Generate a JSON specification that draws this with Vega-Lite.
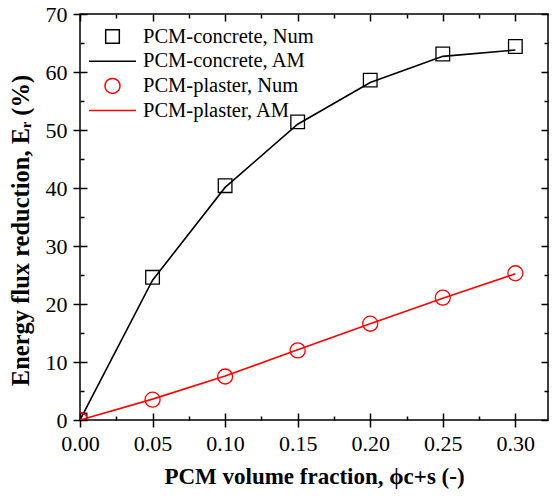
{
  "$schema": "https://vega.github.io/schema/vega-lite/v6.json",
  "width": 468,
  "height": 406,
  "autosize": "none",
  "padding": {"left": 80, "top": 14, "right": 5, "bottom": 76},
  "background": "white",
  "config": {
    "view": {"stroke": "black", "strokeWidth": 1.5},
    "axis": {
      "labelFont": "Liberation Serif",
      "labelFontSize": 22,
      "labelColor": "black",
      "titleFont": "Liberation Serif",
      "titleFontSize": 23,
      "titleFontWeight": "bold",
      "titleColor": "black",
      "tickColor": "black",
      "tickWidth": 1.5,
      "grid": false,
      "domain": false,
      "labelFlush": false,
      "labelOverlap": false
    },
    "legend": {
      "labelFont": "Liberation Serif",
      "labelFontSize": 20.5,
      "labelColor": "black",
      "labelOffset": 6,
      "labelLimit": 0,
      "rowPadding": 3.7,
      "clipHeight": 21,
      "symbolStrokeWidth": 1.5,
      "symbolSize": 2209,
      "padding": 0
    }
  },
  "data": {
    "values": [
      {"x": 0.0, "y": 0.0, "series": "PCM-concrete, Num", "type": "Num"},
      {"x": 0.05, "y": 24.6, "series": "PCM-concrete, Num", "type": "Num"},
      {"x": 0.1, "y": 40.4, "series": "PCM-concrete, Num", "type": "Num"},
      {"x": 0.15, "y": 51.4, "series": "PCM-concrete, Num", "type": "Num"},
      {"x": 0.2, "y": 58.6, "series": "PCM-concrete, Num", "type": "Num"},
      {"x": 0.25, "y": 63.1, "series": "PCM-concrete, Num", "type": "Num"},
      {"x": 0.3, "y": 64.4, "series": "PCM-concrete, Num", "type": "Num"},
      {"x": 0.0, "y": 0.0, "series": "PCM-concrete, AM", "type": "AM"},
      {"x": 0.05, "y": 24.1, "series": "PCM-concrete, AM", "type": "AM"},
      {"x": 0.1, "y": 40.1, "series": "PCM-concrete, AM", "type": "AM"},
      {"x": 0.15, "y": 51.0, "series": "PCM-concrete, AM", "type": "AM"},
      {"x": 0.2, "y": 58.2, "series": "PCM-concrete, AM", "type": "AM"},
      {"x": 0.25, "y": 62.7, "series": "PCM-concrete, AM", "type": "AM"},
      {"x": 0.3, "y": 63.8, "series": "PCM-concrete, AM", "type": "AM"},
      {"x": 0.0, "y": 0.0, "series": "PCM-plaster, Num", "type": "Num"},
      {"x": 0.05, "y": 3.5, "series": "PCM-plaster, Num", "type": "Num"},
      {"x": 0.1, "y": 7.5, "series": "PCM-plaster, Num", "type": "Num"},
      {"x": 0.15, "y": 12.0, "series": "PCM-plaster, Num", "type": "Num"},
      {"x": 0.2, "y": 16.6, "series": "PCM-plaster, Num", "type": "Num"},
      {"x": 0.25, "y": 21.1, "series": "PCM-plaster, Num", "type": "Num"},
      {"x": 0.3, "y": 25.3, "series": "PCM-plaster, Num", "type": "Num"},
      {"x": 0.0, "y": 0.0, "series": "PCM-plaster, AM", "type": "AM"},
      {"x": 0.05, "y": 3.6, "series": "PCM-plaster, AM", "type": "AM"},
      {"x": 0.1, "y": 7.6, "series": "PCM-plaster, AM", "type": "AM"},
      {"x": 0.15, "y": 12.1, "series": "PCM-plaster, AM", "type": "AM"},
      {"x": 0.2, "y": 16.6, "series": "PCM-plaster, AM", "type": "AM"},
      {"x": 0.25, "y": 21.0, "series": "PCM-plaster, AM", "type": "AM"},
      {"x": 0.3, "y": 25.2, "series": "PCM-plaster, AM", "type": "AM"}
    ]
  },
  "layer": [
    {
      "transform": [{"filter": "datum.type === 'AM'"}],
      "mark": {"type": "line", "strokeWidth": 1.6, "clip": true},
      "encoding": {
        "x": {"field": "x", "type": "quantitative", "scale": {"domain": [0, 0.3225], "nice": false, "zero": false},
          "axis": {"orient": "bottom", "values": [0, 0.025, 0.05, 0.075, 0.1, 0.125, 0.15, 0.175, 0.2, 0.225, 0.25, 0.275, 0.3],
            "tickSize": {"condition": {"test": "round(datum.value*1000) % 50 === 0", "value": -7}, "value": -4},
            "labels": false, "title": null}},
        "y": {"field": "y", "type": "quantitative", "scale": {"domain": [0, 70], "nice": false},
          "axis": {"orient": "left", "values": [0, 5, 10, 15, 20, 25, 30, 35, 40, 45, 50, 55, 60, 65, 70],
            "tickSize": {"condition": {"test": "datum.value % 10 === 0", "value": -7}, "value": -4},
            "labels": false, "title": null}},
        "stroke": {"field": "series", "type": "nominal", "legend": null,
          "scale": {"domain": ["PCM-concrete, AM", "PCM-plaster, AM"], "range": ["black", "red"]}},
        "order": {"field": "x", "type": "quantitative"}
      }
    },
    {
      "transform": [{"filter": "datum.type === 'Num'"}],
      "mark": {"type": "point", "filled": false, "strokeWidth": 1.3, "clip": true, "opacity": 1, "size": 2209},
      "encoding": {
        "x": {"field": "x", "type": "quantitative", "scale": {"domain": [0, 0.3225], "nice": false, "zero": false},
          "axis": {"orient": "bottom", "values": [0, 0.05, 0.1, 0.15, 0.2, 0.25, 0.3], "format": ".2f",
            "tickSize": 7, "labelPadding": 6, "title": "PCM volume fraction, ϕc+s (-)", "titlePadding": 11}},
        "y": {"field": "y", "type": "quantitative", "scale": {"domain": [0, 70], "nice": false},
          "axis": {"orient": "left", "values": [0, 10, 20, 30, 40, 50, 60, 70],
            "tickSize": 7, "labelPadding": 6, "title": "Energy flux reduction, Eᵣ (%)", "titlePadding": 12,
            "titleFontSize": 24.5, "titleY": 216}},
        "color": {"field": "series", "type": "nominal",
          "legend": {"title": null, "orient": "none", "legendX": 8, "legendY": 12},
          "scale": {"domain": ["PCM-concrete, Num", "PCM-concrete, AM", "PCM-plaster, Num", "PCM-plaster, AM"], "range": ["black", "black", "red", "red"]}},
        "shape": {"field": "series", "type": "nominal",
          "legend": {"title": null, "orient": "none", "legendX": 8, "legendY": 12},
          "scale": {"domain": ["PCM-concrete, Num", "PCM-concrete, AM", "PCM-plaster, Num", "PCM-plaster, AM"],
            "range": ["M-0.29,-0.29H0.29V0.29H-0.29Z", "M-1,0H1", "M0.32,0A0.32,0.32,0,1,1,-0.32,0A0.32,0.32,0,1,1,0.32,0Z", "M-1,0H1"]}}
      }
    },
    {
      "transform": [{"filter": "datum.type === 'Num'"}],
      "mark": {"type": "point", "opacity": 0},
      "encoding": {
        "x": {"field": "x", "type": "quantitative", "scale": {"domain": [0, 0.3225], "nice": false, "zero": false},
          "axis": {"orient": "top", "values": [0, 0.025, 0.05, 0.075, 0.1, 0.125, 0.15, 0.175, 0.2, 0.225, 0.25, 0.275, 0.3],
            "tickSize": {"condition": {"test": "round(datum.value*1000) % 50 === 0", "value": -7}, "value": -4},
            "labels": false, "title": null}},
        "y": {"field": "y", "type": "quantitative", "scale": {"domain": [0, 70], "nice": false},
          "axis": {"orient": "right", "values": [0, 5, 10, 15, 20, 25, 30, 35, 40, 45, 50, 55, 60, 65, 70],
            "tickSize": {"condition": {"test": "datum.value % 10 === 0", "value": -7}, "value": -4},
            "labels": false, "title": null}}
      }
    }
  ],
  "resolve": {"axis": {"x": "independent", "y": "independent"}}
}
